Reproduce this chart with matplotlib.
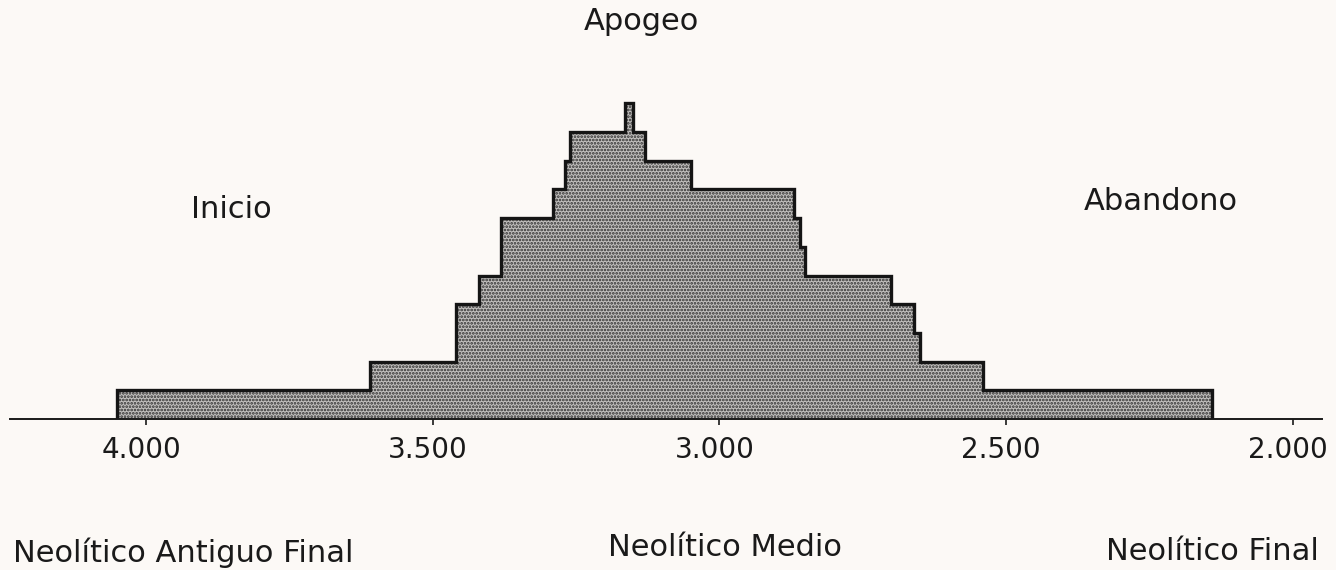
import matplotlib
matplotlib.use("Agg")
import matplotlib.pyplot as plt
from matplotlib.transforms import ScaledTranslation

# Data: bin edges (years) and counts per bin
edges = [4050, 3610, 3460, 3420, 3380, 3290, 3270, 3260, 3165, 3150,
         3130, 3050, 2870, 2860, 2850, 2700, 2660, 2650, 2540, 2140]
counts = [1, 2, 4, 5, 7, 8, 9, 10, 11, 10, 9, 8, 7, 6, 5, 4, 3, 2, 1]
tick_values = [4000, 3500, 3000, 2500, 2000]
tick_labels = ["4.000", "3.500", "3.000", "2.500", "2.000"]
phase_labels = ["Inicio", "Apogeo", "Abandono"]
period_labels = ["Neolítico Antiguo Final", "Neolítico Medio", "Neolítico Final"]

plt.rcParams['font.family'] = ['DejaVu Sans']
plt.rcParams['hatch.linewidth'] = 1.3

W, H = 1336, 570
fig = plt.figure(figsize=(W / 100, H / 100), dpi=100)
bg = '#fcf9f6'
fig.patch.set_facecolor(bg)

base_px = 419
ax = fig.add_axes([0, (H - base_px) / H, 1, base_px / H])
ax.set_facecolor('none')

# step histogram outline
xs = [edges[0]]
ys = [0]
for i, c in enumerate(counts):
    xs += [edges[i], edges[i + 1]]
    ys += [c, c]
xs.append(edges[-1])
ys.append(0)
ax.fill(xs, ys, facecolor='#c2c0be', edgecolor='#2e2e2e', linewidth=0,
        hatch='.....', zorder=2)
ax.plot(xs, ys, color='#151515', lw=2.4, zorder=3, solid_joinstyle='miter')

px_per_year = 0.5733
ax.set_xlim(2500 + 1006 / px_per_year, 2500 - (W - 1006) / px_per_year)
unit_px = 28.7
ax.set_ylim(0, base_px / unit_px)

for s in ['top', 'left', 'right']:
    ax.spines[s].set_visible(False)
ax.spines['bottom'].set_bounds(2500 + (1006 - 10) / px_per_year,
                               2500 - (1322 - 1006) / px_per_year)
ax.spines['bottom'].set_linewidth(1.4)
ax.spines['bottom'].set_color('#1a1a1a')
ax.spines['bottom'].set_zorder(4)
ax.set_yticks([])
ax.set_xticks(tick_values)
ax.set_xticklabels(tick_labels, fontsize=20, color='#1a1a1a')
ax.tick_params(axis='x', length=4, width=1.2, pad=8, colors='#1a1a1a')
shift = ScaledTranslation(-5 / 100, 0, fig.dpi_scale_trans)
for lab in ax.get_xticklabels():
    lab.set_transform(lab.get_transform() + shift)

txt = dict(fontsize=22, color='#1a1a1a', va='center')
fig.text(231 / W, 1 - 210 / H, phase_labels[0], ha='center', **txt)
fig.text(641 / W, 1 - 22 / H, phase_labels[1], ha='center', **txt)
fig.text(1161 / W, 1 - 202 / H, phase_labels[2], ha='center', **txt)
fig.text(13 / W, 1 - 553 / H, period_labels[0], ha='left', **txt)
fig.text(725 / W, 1 - 548 / H, period_labels[1], ha='center', **txt)
fig.text(1212 / W, 1 - 552 / H, period_labels[2], ha='center', **txt)

fig.savefig('out.png', dpi=100, facecolor=bg)
